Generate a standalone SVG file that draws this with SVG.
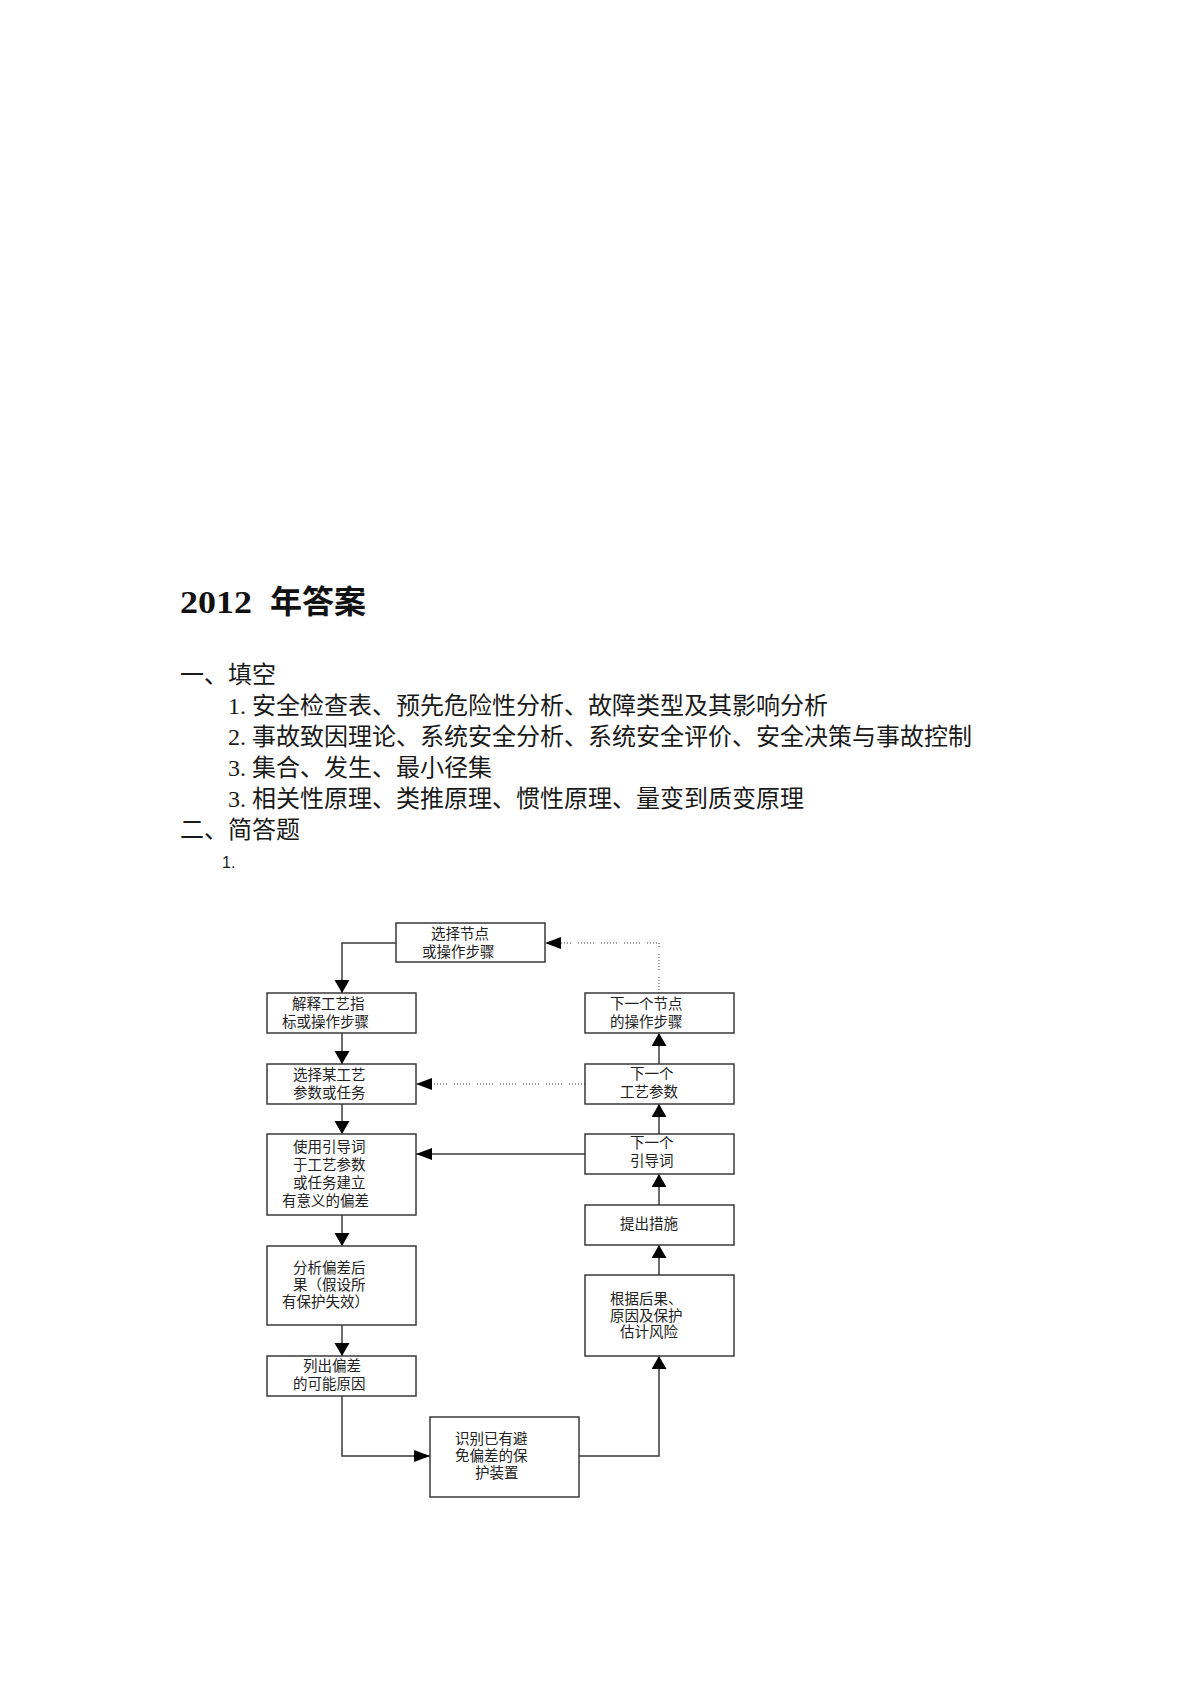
<svg xmlns="http://www.w3.org/2000/svg" width="1190" height="1683" viewBox="0 0 1190 1683">
<defs>
<style>
.bg{fill:#ffffff}
.h1{font-family:"Liberation Serif","Noto Sans CJK SC",serif;font-weight:bold;font-size:32px;fill:#111}
.h1c{font-family:"Noto Sans CJK SC",sans-serif;font-weight:bold;font-size:32px;fill:#111}
.t{font-family:"Noto Sans CJK SC",sans-serif;font-size:24px;fill:#1a1a1a}
.num{font-family:"Liberation Serif",serif;font-size:24px;fill:#1a1a1a}
.small{font-family:"Liberation Sans",sans-serif;font-size:16px;fill:#1a1a1a}
.box{fill:#ffffff;stroke:#3a3a3a;stroke-width:1.5}
.lbl{font-family:"Noto Sans CJK SC",sans-serif;font-size:14.5px;fill:#222}
.edge{fill:none;stroke:#3a3a3a;stroke-width:1.5}
.dot{fill:none;stroke:#7a7a7a;stroke-width:1.5;stroke-dasharray:1 2 1 2 1 2 1 2 1 2 1 7}
</style>
<marker id="av" markerUnits="userSpaceOnUse" markerWidth="14" markerHeight="16" refX="13" refY="7.5" orient="auto">
<path d="M0,0 L13,7.5 L0,15 z" fill="#000"/>
</marker>
<marker id="ah" markerUnits="userSpaceOnUse" markerWidth="17" markerHeight="13" refX="16" refY="6" orient="auto">
<path d="M0,0 L16,6 L0,12 z" fill="#000"/>
</marker>
</defs>
<rect class="bg" x="0" y="0" width="1190" height="1683"/>

<g id="heading">
<text class="h1" x="180" y="613" textLength="72" lengthAdjust="spacingAndGlyphs">2012</text>
<text class="h1c" x="270" y="613">年答案</text>
</g>

<g id="section1">
<text class="t" x="180" y="683">一、填空</text>
<text class="num" x="228" y="714">1.</text><text class="t" x="252" y="714">安全检查表、预先危险性分析、故障类型及其影响分析</text>
<text class="num" x="228" y="745">2.</text><text class="t" x="252" y="745">事故致因理论、系统安全分析、系统安全评价、安全决策与事故控制</text>
<text class="num" x="228" y="776">3.</text><text class="t" x="252" y="776">集合、发生、最小径集</text>
<text class="num" x="228" y="807">3.</text><text class="t" x="252" y="807">相关性原理、类推原理、惯性原理、量变到质变原理</text>
<text class="t" x="180" y="838">二、简答题</text>
<text class="small" x="222" y="868">1.</text>
</g>

<g id="connectors">
<polyline class="edge" points="396,943 342,943 342,993" marker-end="url(#av)"/>
<line class="edge" x1="342" y1="1033" x2="342" y2="1064" marker-end="url(#av)"/>
<line class="edge" x1="342" y1="1104" x2="342" y2="1134" marker-end="url(#av)"/>
<line class="edge" x1="342" y1="1215" x2="342" y2="1246" marker-end="url(#av)"/>
<line class="edge" x1="342" y1="1325" x2="342" y2="1356" marker-end="url(#av)"/>
<polyline class="edge" points="342,1396 342,1456 430,1456" marker-end="url(#ah)"/>
<polyline class="edge" points="579,1456 659,1456 659,1356" marker-end="url(#av)"/>
<line class="edge" x1="659" y1="1275" x2="659" y2="1245" marker-end="url(#av)"/>
<line class="edge" x1="659" y1="1205" x2="659" y2="1174" marker-end="url(#av)"/>
<line class="edge" x1="659" y1="1134" x2="659" y2="1104" marker-end="url(#av)"/>
<line class="edge" x1="659" y1="1064" x2="659" y2="1033" marker-end="url(#av)"/>
<polyline class="dot" points="659,993 659,943 545,943" marker-end="url(#ah)"/>
<line class="dot" x1="585" y1="1084" x2="416" y2="1084" marker-end="url(#ah)"/>
<line class="edge" x1="585" y1="1154" x2="416" y2="1154" marker-end="url(#ah)"/>
</g>

<g id="n1"><rect class="box" x="396" y="923" width="149" height="39"/>
<text class="lbl"><tspan x="431" y="939">选择节点</tspan><tspan x="422" y="957">或操作步骤</tspan></text></g>
<g id="n2"><rect class="box" x="267" y="993" width="149" height="40"/>
<text class="lbl"><tspan x="292" y="1009">解释工艺指</tspan><tspan x="282" y="1027">标或操作步骤</tspan></text></g>
<g id="n3"><rect class="box" x="267" y="1064" width="149" height="40"/>
<text class="lbl"><tspan x="293" y="1080">选择某工艺</tspan><tspan x="293" y="1098">参数或任务</tspan></text></g>
<g id="n4"><rect class="box" x="267" y="1134" width="149" height="81"/>
<text class="lbl"><tspan x="293" y="1152">使用引导词</tspan><tspan x="293" y="1170">于工艺参数</tspan><tspan x="293" y="1188">或任务建立</tspan><tspan x="282" y="1206">有意义的偏差</tspan></text></g>
<g id="n5"><rect class="box" x="267" y="1246" width="149" height="79"/>
<text class="lbl"><tspan x="293" y="1273">分析偏差后</tspan><tspan x="293" y="1290">果（假设所</tspan><tspan x="282" y="1307">有保护失效）</tspan></text></g>
<g id="n6"><rect class="box" x="267" y="1356" width="149" height="40"/>
<text class="lbl"><tspan x="303" y="1371">列出偏差</tspan><tspan x="293" y="1389">的可能原因</tspan></text></g>
<g id="n7"><rect class="box" x="430" y="1417" width="149" height="80"/>
<text class="lbl"><tspan x="455" y="1444">识别已有避</tspan><tspan x="455" y="1461">免偏差的保</tspan><tspan x="475" y="1478">护装置</tspan></text></g>
<g id="n8"><rect class="box" x="585" y="1275" width="149" height="81"/>
<text class="lbl"><tspan x="610" y="1304">根据后果、</tspan><tspan x="610" y="1321">原因及保护</tspan><tspan x="620" y="1337">估计风险</tspan></text></g>
<g id="n9"><rect class="box" x="585" y="1205" width="149" height="40"/>
<text class="lbl" x="620" y="1229">提出措施</text></g>
<g id="n10"><rect class="box" x="585" y="1134" width="149" height="40"/>
<text class="lbl"><tspan x="630" y="1148">下一个</tspan><tspan x="630" y="1166">引导词</tspan></text></g>
<g id="n11"><rect class="box" x="585" y="1064" width="149" height="40"/>
<text class="lbl"><tspan x="630" y="1079">下一个</tspan><tspan x="620" y="1097">工艺参数</tspan></text></g>
<g id="n12"><rect class="box" x="585" y="993" width="149" height="40"/>
<text class="lbl"><tspan x="610" y="1009">下一个节点</tspan><tspan x="610" y="1027">的操作步骤</tspan></text></g>
</svg>
